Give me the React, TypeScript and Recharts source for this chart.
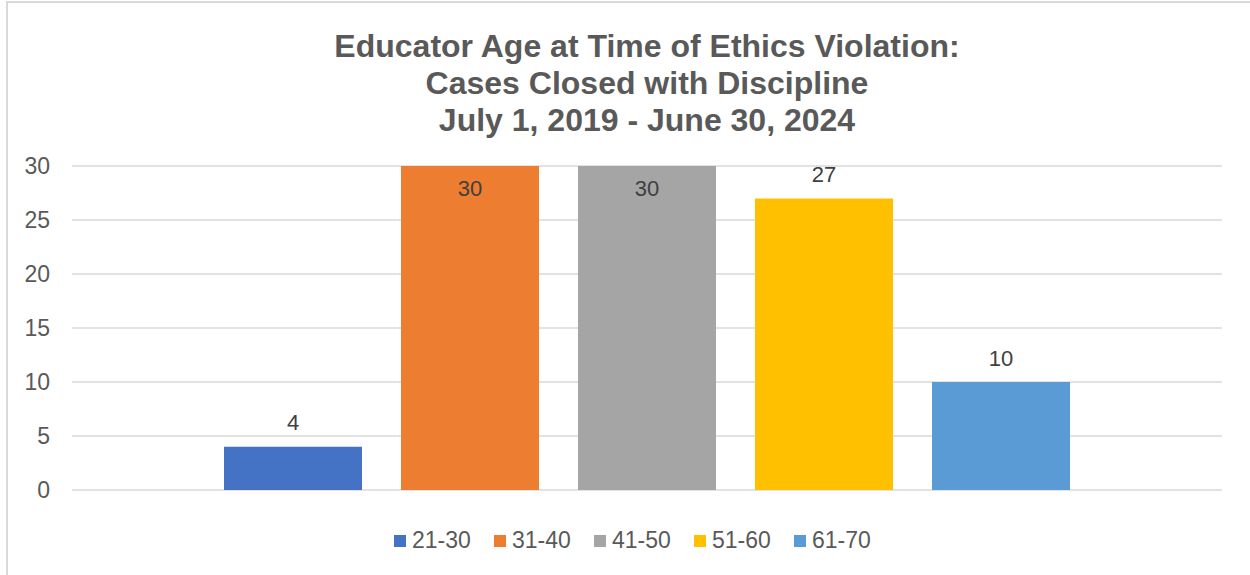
import { BarChart, Bar, YAxis, XAxis, CartesianGrid, LabelList, Legend } from 'recharts';

// Age groups and number of cases closed with discipline
const ageGroups = ['21-30', '31-40', '41-50', '51-60', '61-70'];
const cases = [4, 30, 30, 27, 10];
const barColors = ['#4472C4', '#ED7D31', '#A5A5A5', '#FFC000', '#5B9BD5'];
const yTicks = [0, 5, 10, 15, 20, 25, 30];

const titleLines = [
  'Educator Age at Time of Ethics Violation:',
  'Cases Closed with Discipline',
  'July 1, 2019 - June 30, 2024',
];

const FONT = '"Liberation Sans", Arial, sans-serif';
const TEXT = '#595959';
const Y_MAX = 30;

// one category holding every age group as its own series
const row: Record<string, string | number> = { name: 'All' };
ageGroups.forEach((g, i) => {
  row[g] = cases[i];
});
const chartData = [row];

const BarLabel = (props: any) => {
  const { x, y, width, value } = props;
  const inside = value >= Y_MAX;
  return (
    <text
      x={x + width / 2}
      y={inside ? y + 22 : y - 24}
      textAnchor="middle"
      dominantBaseline="central"
      fill="#404040"
      fontSize={22}
      fontFamily={FONT}
    >
      {value}
    </text>
  );
};

const LegendContent = () => (
  <div style={{ display: 'flex', fontFamily: FONT, fontSize: 23, color: TEXT }}>
    {ageGroups.map((g, i) => (
      <div key={g} style={{ display: 'flex', alignItems: 'center', width: 100 }}>
        <span style={{ width: 12, height: 12, background: barColors[i], marginRight: 6 }} />
        <span>{g}</span>
      </div>
    ))}
  </div>
);

export default function App() {
  return (
    <div style={{ position: 'absolute', left: 0, top: 0, width: 1250, height: 575, background: '#fff', overflow: 'hidden' }}>
      <div
        style={{
          position: 'absolute',
          left: 6,
          top: 1,
          width: 1260,
          height: 590,
          borderLeft: '2px solid #D9D9D9',
          borderTop: '2px solid #D9D9D9',
        }}
      />
      <div
        style={{
          position: 'absolute',
          left: 147,
          top: 28,
          width: 1000,
          textAlign: 'center',
          fontFamily: FONT,
          fontWeight: 'bold',
          fontSize: 32,
          lineHeight: '37px',
          color: TEXT,
        }}
      >
        {titleLines.map((t) => (
          <div key={t}>{t}</div>
        ))}
      </div>
      <div style={{ position: 'absolute', left: 0, top: 0 }}>
        <BarChart
          width={1250}
          height={575}
          data={chartData}
          margin={{ top: 166, right: 28, bottom: 57, left: 0 }}
          barCategoryGap={152}
          barGap={39}
        >
          <CartesianGrid vertical={false} stroke="#D9D9D9" strokeWidth={1.5} />
          <XAxis dataKey="name" hide />
          <YAxis
            width={72}
            domain={[0, Y_MAX]}
            ticks={yTicks}
            axisLine={false}
            tickLine={false}
            tickSize={0}
            tickMargin={22}
            tick={{ fill: TEXT, fontSize: 23, fontFamily: FONT }}
          />
          <Legend
            content={<LegendContent />}
            wrapperStyle={{ position: 'absolute', left: 394, top: 527, width: 520, height: 28 }}
          />
          {ageGroups.map((g, i) => (
            <Bar key={g} dataKey={g} fill={barColors[i]} isAnimationActive={false}>
              <LabelList dataKey={g} content={<BarLabel />} />
            </Bar>
          ))}
        </BarChart>
      </div>
    </div>
  );
}
